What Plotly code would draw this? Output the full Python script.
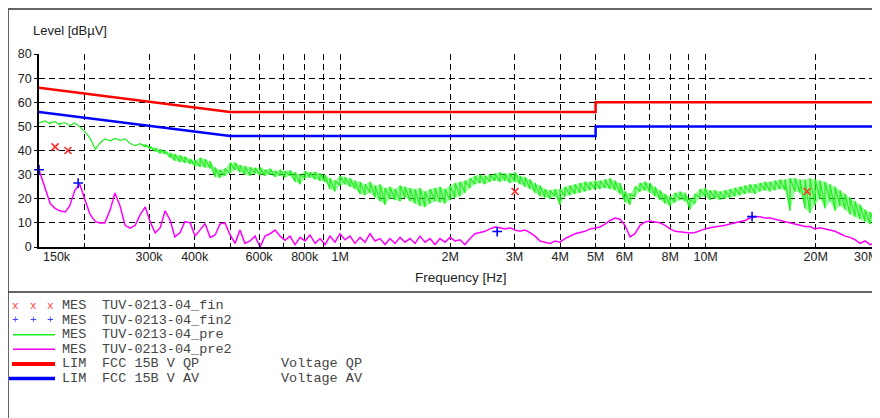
import plotly.graph_objects as go

# frequency grid of the prescans (kHz)
freq_khz = [
    150, 156, 161, 166, 171, 177, 182, 188, 194, 201,
    207, 214, 220, 227, 235, 242, 250, 258, 266, 275,
    284, 293, 302, 312, 322, 332, 343, 353, 365, 376,
    389, 401, 414, 427, 441, 455, 469, 484, 500, 516,
    532, 549, 567, 585, 604, 623, 643, 664, 685, 707,
    729, 753, 777, 802, 827, 854, 881, 909, 938, 968,
    999, 1031, 1064, 1098, 1134, 1170, 1207, 1246, 1286, 1327,
    1369, 1413, 1459, 1505, 1553, 1603, 1654, 1707, 1762, 1818,
    1876, 1936, 1998, 2062, 2128, 2196, 2267, 2339, 2414, 2491,
    2571, 2653, 2738, 2826, 2916, 3010, 3106, 3205, 3308, 3414,
    3523, 3636, 3752, 3872, 3996, 4124, 4256, 4392, 4533, 4678,
    4827, 4982, 5141, 5306, 5475, 5651, 5831, 6018, 6211, 6409,
    6614, 6826, 7045, 7270, 7503, 7743, 7991, 8246, 8510, 8783,
    9064, 9354, 9653, 9962, 10281, 10610, 10950, 11300, 11662, 12035,
    12420, 12818, 13228, 13651, 14088, 14539, 15005, 15485, 15980, 16492,
    17020, 17564, 18127, 18707, 19306, 19924, 20561, 21219, 21899, 22599,
    23323, 24069, 24839, 25634, 26455, 27301, 28175, 29077, 30000,
]

# TUV-0213-04_pre (peak prescan) - min / max per frequency bin
pre_lo = [
    51.4, 52.3, 51.0, 52.0, 50.6, 51.5, 50.3, 51.4, 49.8, 47.5,
    45.0, 40.5, 43.0, 44.8, 44.0, 45.0, 44.2, 44.8, 43.0, 42.0,
    42.8, 41.5, 40.8, 39.5, 38.8, 38.5, 37.0, 35.8, 35.2, 34.8,
    34.5, 33.5, 33.3, 33.0, 32.5, 29.0, 28.6, 29.5, 30.5, 32.0,
    31.0, 30.0, 29.5, 30.5, 29.8, 29.5, 30.0, 29.0, 29.5, 28.8,
    29.5, 27.0, 26.0, 28.5, 28.8, 28.0, 27.5, 27.0, 24.0, 23.0,
    25.5, 26.0, 25.0, 24.0, 22.0, 21.5, 22.5, 20.5, 19.0, 17.5,
    20.0, 19.5, 19.0, 20.5, 19.0, 18.0, 17.0, 16.5, 18.0, 19.0,
    18.5, 18.0, 19.5, 20.5, 21.0, 22.5, 24.5, 26.0, 26.5, 26.0,
    27.0, 27.5, 27.0, 27.5, 26.5, 27.0, 26.0, 25.0, 24.0, 22.5,
    21.0, 20.5, 20.0, 21.0, 17.5, 21.0, 21.5, 22.0, 22.5, 23.0,
    23.5, 24.0, 24.0, 24.5, 24.0, 23.5, 22.0, 18.5, 17.5, 21.0,
    23.0, 23.5, 22.5, 21.0, 19.5, 18.0, 17.0, 18.5, 19.5, 19.0,
    15.5, 18.0, 20.5, 21.0, 19.5, 20.0, 19.5, 20.0, 20.5, 21.0,
    21.5, 22.0, 22.5, 22.0, 23.0, 23.5, 23.0, 23.5, 24.0, 23.5,
    15.0, 23.0, 22.5, 16.0, 14.0, 17.5, 20.0, 16.0, 19.0, 15.0,
    17.0, 15.5, 13.5, 12.5, 11.5, 10.5, 9.5, 9.0, 9.5,
]
pre_hi = [
    51.4, 52.3, 51.6, 52.0, 51.2, 51.5, 50.3, 51.4, 49.8, 47.5,
    45.0, 40.5, 43.0, 44.8, 44.0, 45.0, 44.2, 44.8, 43.0, 42.0,
    42.8, 42.5, 41.8, 41.0, 40.5, 40.0, 39.0, 38.5, 38.0, 37.5,
    36.5, 36.0, 37.0, 36.5, 35.5, 33.0, 32.0, 32.5, 35.0, 35.0,
    34.0, 33.5, 33.0, 32.8, 33.0, 32.0, 32.5, 31.5, 32.0, 31.5,
    31.8, 31.0, 30.0, 31.5, 31.0, 31.2, 30.5, 30.0, 28.5, 27.5,
    29.5, 29.0, 28.5, 27.5, 27.0, 26.0, 27.0, 25.5, 26.0, 24.5,
    25.0, 24.0, 25.5, 25.0, 24.5, 24.0, 24.5, 23.0, 24.0, 24.5,
    25.0, 24.0, 25.5, 26.5, 27.0, 27.5, 28.5, 29.5, 30.0, 29.5,
    30.0, 30.5, 31.0, 30.5, 30.5, 31.0, 29.5, 29.0, 28.0, 26.5,
    25.5, 24.0, 23.5, 24.0, 24.0, 25.0, 25.5, 26.0, 26.5, 27.0,
    27.0, 27.5, 27.5, 28.0, 28.5, 27.5, 26.5, 23.0, 22.0, 25.0,
    26.5, 27.0, 26.5, 25.0, 23.5, 22.0, 21.0, 22.5, 23.0, 22.5,
    20.0, 22.0, 24.0, 24.5, 23.5, 23.5, 23.0, 23.5, 24.0, 24.5,
    25.0, 25.5, 26.0, 26.0, 26.5, 27.0, 27.0, 27.5, 28.0, 28.0,
    28.5, 28.5, 28.0, 28.0, 28.5, 28.0, 27.5, 27.0, 26.0, 25.0,
    23.5, 22.0, 20.5, 19.0, 17.5, 15.5, 14.5, 13.5, 13.0,
]

# TUV-0213-04_pre2 (average prescan)
pre2 = [
    32.0, 24.0, 18.0, 16.0, 15.0, 14.5, 17.0, 23.5, 26.0, 19.0,
    13.5, 10.5, 10.0, 10.0, 15.5, 22.4, 17.0, 9.0, 7.8, 9.0,
    13.5, 16.6, 10.5, 5.8, 8.0, 15.0, 11.0, 4.2, 6.0, 10.5,
    10.0, 4.5, 7.0, 9.7, 4.0, 5.0, 9.5, 10.0, 5.0, 1.5,
    7.0, 1.5, 2.5, 4.5, 0.0, 4.5, 5.5, 7.0, 4.5, 2.8,
    4.5, 1.0, 4.0, 2.5, 5.0, 1.5, 3.5, 1.0, 4.5, 2.0,
    5.5, 3.0, 4.5, 1.5, 4.0, 2.0, 5.5, 2.5, 3.5, 1.0,
    3.5, 1.5, 4.0, 2.0, 3.5, 1.5, 4.5, 2.0, 3.5, 1.0,
    3.5, 2.0, 4.0, 2.5, 3.0, 1.0, 3.5, 5.5, 6.0, 6.5,
    7.5, 8.3, 8.0, 7.5, 8.0, 7.0, 6.5, 7.0, 6.0, 4.5,
    2.5, 2.0, 1.5, 2.5, 2.0, 3.5, 4.5, 5.5, 6.0, 6.5,
    7.5, 8.0, 8.3, 9.5, 11.0, 12.0, 11.5, 9.0, 4.2, 5.5,
    9.0, 10.4, 10.8, 10.4, 10.0, 9.0, 7.5, 6.5, 6.2, 6.0,
    5.8, 6.0, 6.8, 7.5, 8.0, 8.3, 8.5, 9.0, 9.5, 10.0,
    10.5, 11.0, 12.0, 12.5, 12.5, 12.0, 12.0, 11.5, 11.0, 10.5,
    10.0, 9.5, 9.0, 8.5, 8.5, 7.5, 8.0, 7.5, 7.0, 6.5,
    5.5, 4.5, 4.0, 3.0, 1.5, 2.5, 1.0, 1.5, 1.0,
]

# final measurements
fin_khz = [166, 180, 3010, 18950]
fin_val = [41.5, 40.0, 23.0, 23.0]
fin2_khz = [150, 192, 2690, 13400]
fin2_val = [32.0, 26.5, 6.4, 12.6]

# FCC 15B limits
lim_khz = [150, 500, 5000, 5000, 30000]
lim_qp = [66, 56, 56, 60, 60]
lim_av = [56, 46, 46, 50, 50]

x_tickvals_khz = [200, 300, 400, 500, 600, 700, 800, 900, 1000,
                  2000, 3000, 4000, 5000, 6000, 7000, 8000, 9000, 10000, 20000]
x_ticktext = ['', '300k', '400k', '', '600k', '', '800k', '', '1M',
              '2M', '3M', '4M', '5M', '6M', '', '8M', '', '10M', '20M']

legend_rows = [
    ('MES', 'TUV-0213-04_fin', ''),
    ('MES', 'TUV-0213-04_fin2', ''),
    ('MES', 'TUV-0213-04_pre', ''),
    ('MES', 'TUV-0213-04_pre2', ''),
    ('LIM', 'FCC 15B V QP', 'Voltage QP'),
    ('LIM', 'FCC 15B V AV', 'Voltage AV'),
]

# page body adds an 8px margin, so the figure is drawn 8px smaller
OFF = 8
W, H = 880 - OFF, 418 - OFF
# plot area in page pixels
L, R, T, B = 39, 880, 54, 247


def px(x):
    return (x - L) / (R - L)


def py(y):
    return (B - y) / (B - T)


GREEN = '#1ef01e'
fig = go.Figure()

hz = [f * 1e3 for f in freq_khz]

# min/max envelope of the peak scan, lightly filled (no edge lines)
fig.add_trace(go.Scatter(x=hz, y=pre_lo, mode='lines',
                         line=dict(color=GREEN, width=0)))
fig.add_trace(go.Scatter(x=hz, y=pre_hi, mode='lines', fill='tonexty',
                         fillcolor='rgba(40,240,40,0.45)',
                         line=dict(color=GREEN, width=0)))
# jagged noise inside the envelope
gx, gy = [], []
for f, lo, hi in zip(hz, pre_lo, pre_hi):
    gx += [f, f]
    gy += [lo, hi]
fig.add_trace(go.Scatter(x=gx, y=gy, mode='lines',
                         line=dict(color=GREEN, width=1.2)))

fig.add_trace(go.Scatter(x=hz, y=pre2, mode='lines',
                         line=dict(color='#ff00ff', width=1.5)))
fig.add_trace(go.Scatter(x=[f * 1e3 for f in lim_khz], y=lim_qp, mode='lines',
                         line=dict(color='#ff0000', width=2.5)))
fig.add_trace(go.Scatter(x=[f * 1e3 for f in lim_khz], y=lim_av, mode='lines',
                         line=dict(color='#0000ff', width=2.5)))
fig.add_trace(go.Scatter(x=[f * 1e3 for f in fin_khz], y=fin_val, mode='markers',
                         marker=dict(symbol='x-thin-open', size=7, color='#ff3030',
                                     line=dict(color='#ff3030', width=1.7)),
                         cliponaxis=False))
fig.add_trace(go.Scatter(x=[f * 1e3 for f in fin2_khz], y=fin2_val, mode='markers',
                         marker=dict(symbol='cross-thin-open', size=7, color='#0000ff',
                                     line=dict(color='#0000ff', width=1.6)),
                         cliponaxis=False))

fig.update_xaxes(
    type='log',
    range=[5.176091259, 7.477121255],
    tickvals=[v * 1e3 for v in x_tickvals_khz],
    ticktext=x_ticktext,
    ticks='inside', ticklen=4, tickcolor='black', tickwidth=1.2,
    ticklabelstandoff=-3,
    showgrid=True, gridcolor='black', gridwidth=1.1, griddash='6px,4px',
    showline=True, linecolor='black', linewidth=1.5,
    tickfont=dict(size=12.5, color='#222'),
    zeroline=False,
)
fig.update_yaxes(
    range=[0, 80], dtick=10,
    ticks='outside', ticklen=3, tickcolor='black',
    showgrid=True, gridcolor='black', gridwidth=1.1, griddash='6px,4px',
    showline=True, linecolor='black', linewidth=1.5,
    tickfont=dict(size=12.5, color='#222'),
    zeroline=False,
)

ann = [
    dict(text='Level [dBµV]', x=px(31), y=py(30), xanchor='left', yanchor='middle',
         font=dict(size=13, color='#222')),
    dict(text='Frequency [Hz]', x=px(461), y=py(277), xanchor='center', yanchor='middle',
         font=dict(size=13.5, color='#222')),
    dict(text='150k', x=px(41), y=py(257), xanchor='left', yanchor='middle',
         font=dict(size=12.5, color='#222')),
    dict(text='30M', x=1.0, y=py(257), xanchor='right', yanchor='middle',
         font=dict(size=12.5, color='#222')),
]

row_y = [305.5, 320.1, 334.7, 349.3, 363.9, 378.5]
mono = 'Liberation Mono, Courier New, monospace'
for i, (a, b, c) in enumerate(legend_rows):
    for xpos, txt in ((60, a), (100, b), (279, c)):
        if txt:
            ann.append(dict(text=txt, x=px(xpos), y=py(row_y[i]), xanchor='left',
                            yanchor='middle', font=dict(family=mono, size=13.5, color='#444')))
for xpos in (15, 33, 50):
    ann.append(dict(text='x', x=px(xpos), y=py(row_y[0]), xanchor='center', yanchor='middle',
                    font=dict(family=mono, size=11, color='#ff4040')))
    ann.append(dict(text='+', x=px(xpos), y=py(row_y[1]), xanchor='center', yanchor='middle',
                    font=dict(family=mono, size=11, color='#4040ff')))
for a in ann:
    a.update(xref='paper', yref='paper', showarrow=False)

border = dict(color='#333', width=1.5)
shapes = [
    dict(type='line', x0=px(8), x1=px(882), y0=py(9), y1=py(9), line=border),
    dict(type='line', x0=px(8), x1=px(8), y0=py(9), y1=py(430), line=border),
    dict(type='line', x0=px(8), x1=px(882), y0=py(292), y1=py(292), line=border),
    dict(type='line', x0=px(13), x1=px(55), y0=py(row_y[2]), y1=py(row_y[2]),
         line=dict(color=GREEN, width=1.5)),
    dict(type='line', x0=px(13), x1=px(55), y0=py(row_y[3]), y1=py(row_y[3]),
         line=dict(color='#ff00ff', width=1.5)),
    dict(type='line', x0=px(12), x1=px(55), y0=py(row_y[4]), y1=py(row_y[4]),
         line=dict(color='#ff0000', width=4)),
    dict(type='line', x0=px(9), x1=px(55), y0=py(row_y[5]), y1=py(row_y[5]),
         line=dict(color='#0000ff', width=3.5)),
]
for s in shapes:
    s.update(xref='paper', yref='paper')

fig.update_layout(
    width=W, height=H, autosize=False,
    margin=dict(l=L - OFF, r=880 - R, t=T - OFF, b=418 - B),
    plot_bgcolor='white', paper_bgcolor='white',
    font=dict(family='Liberation Sans, Arial, sans-serif', color='#222'),
    showlegend=False,
    annotations=ann,
    shapes=shapes,
)

fig.write_html('out.html')
